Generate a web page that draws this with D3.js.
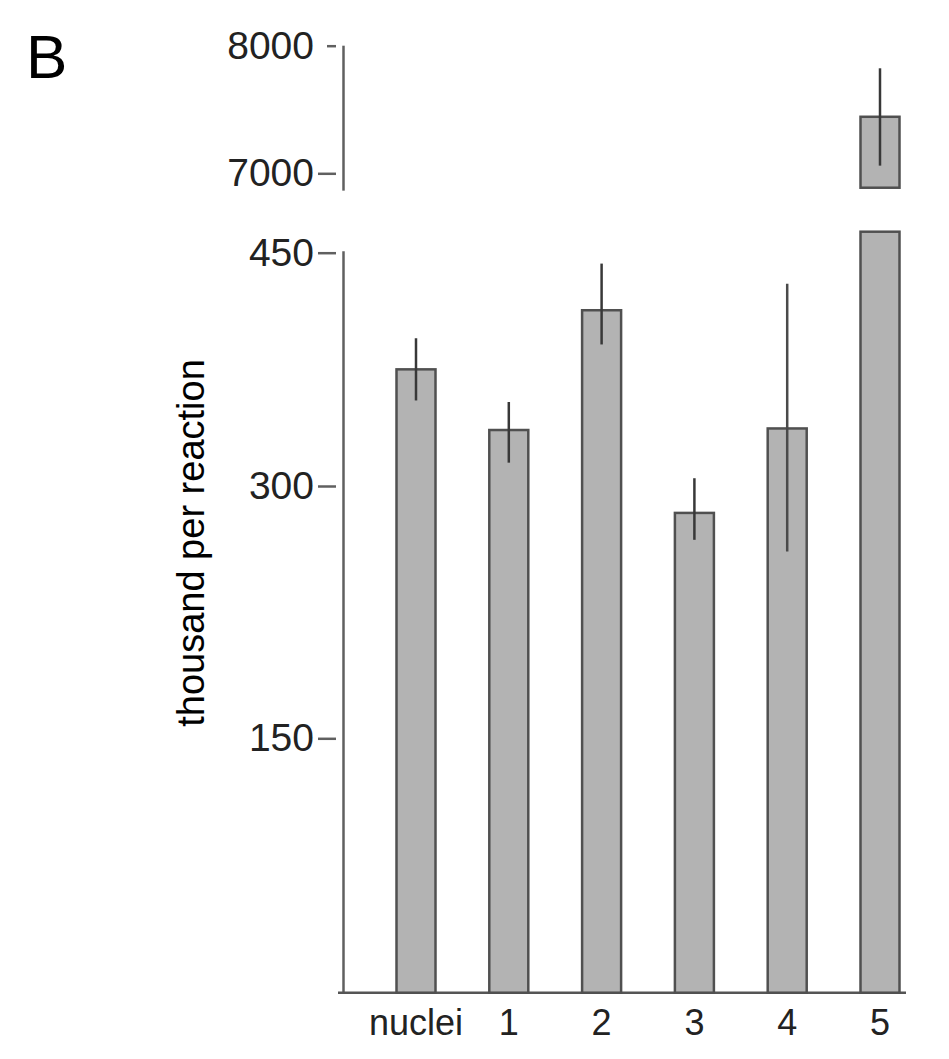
<!DOCTYPE html>
<html>
<head>
<meta charset="utf-8">
<script src="https://cdn.jsdelivr.net/npm/d3@7"></script>
<style>
  body { margin: 0; background: #fff; }
  svg { display: block; font-family: "Liberation Sans", Arial, sans-serif; }
</style>
</head>
<body>
<div id="chart"></div>
<script>
// data
const categories = ["nuclei", "1", "2", "3", "4", "5"]
const values = [375, 336, 413, 284, 337, 7443]
const errLow = [355, 315, 391, 268, 261, 7060]
const errHigh = [395, 354, 443, 305, 430, 7823]
const lowTicks = [0, 150, 300, 450]
const highTicks = [7000, 8000]

const width = 949, height = 1059
const lowerCap = 463.5, upperFloor = 6887   // where the axis is broken
const bar_w = 39, bar_fill = "#b3b3b3", bar_stroke = "#505050",
    err_color = "#383838", axis_color = "#606060", tick_font = "39px", font_size = "36px"

let svg = d3.select("#chart")
    .append("svg")
    .attr("width", width)
    .attr("height", height)

let x = d3.scalePoint()
    .domain(categories)
    .range([416, 880])

// the original's lower ticks are not evenly spaced, so follow them piecewise
let yLow = d3.scaleLinear()
    .domain(lowTicks)
    .range([992.7, 738.3, 486, 252.7])

let yHigh = d3.scaleLinear()
    .domain([7000, 8000])
    .range([173.3, 45.7])

// panel letter
svg.append("text")
    .attr("x", 26)
    .attr("y", 78)
    .attr("font-size", "62px")
    .attr("fill", "#000")
    .text("B")

// axes: ticks sit a little left of the axis line
function drawAxis(scale, ticks, lineTop, lineBottom) {
    let g = svg.append("g")
        .attr("transform", "translate(336,0)")
        .call(d3.axisLeft(scale).tickValues(ticks).tickSizeInner(18).tickSizeOuter(0).tickPadding(4).tickFormat(d3.format("d")))
    g.select(".domain").remove()
    g.selectAll(".tick line").attr("stroke", axis_color).attr("stroke-width", 2.5)
    g.selectAll(".tick text")
        .attr("font-size", tick_font)
        .attr("font-family", "Liberation Sans, Arial, sans-serif")
        .attr("fill", "#222")
    svg.append("line")
        .attr("x1", 343.5).attr("x2", 343.5)
        .attr("y1", lineTop).attr("y2", lineBottom)
        .attr("stroke", axis_color)
        .attr("stroke-width", 2.5)
    return g
}

let gLow = drawAxis(yLow, lowTicks.filter(d => d > 0), yLow(451), yLow(0))
let gHigh = drawAxis(yHigh, highTicks, yHigh(8000), yHigh(6864))
// the 8000 tick is a short stub in the original
gHigh.selectAll(".tick").filter(d => d === 8000).select("line")
    .attr("x1", -9).attr("x2", 0)
gHigh.selectAll(".tick").filter(d => d === 8000).select("text")
    .attr("x", -22)

// x axis baseline
svg.append("line")
    .attr("x1", 338).attr("x2", 906)
    .attr("y1", yLow(0)).attr("y2", yLow(0))
    .attr("stroke", "#555")
    .attr("stroke-width", 2.5)

let data = categories.map((c, i) => ({cat: c, v: values[i], lo: errLow[i], hi: errHigh[i]}))

// lower segments
svg.append("g")
    .selectAll("rect")
    .data(data)
    .enter()
    .append("rect")
    .attr("x", d => x(d.cat) - bar_w / 2)
    .attr("y", d => yLow(Math.min(d.v, lowerCap)))
    .attr("width", bar_w)
    .attr("height", d => yLow(0) - yLow(Math.min(d.v, lowerCap)))
    .attr("fill", bar_fill)
    .attr("stroke", bar_stroke)
    .attr("stroke-width", 2.5)

// upper segments for bars that pass the break
svg.append("g")
    .selectAll("rect")
    .data(data.filter(d => d.v > lowerCap))
    .enter()
    .append("rect")
    .attr("x", d => x(d.cat) - bar_w / 2)
    .attr("y", d => yHigh(d.v))
    .attr("width", bar_w)
    .attr("height", d => yHigh(upperFloor) - yHigh(d.v))
    .attr("fill", bar_fill)
    .attr("stroke", bar_stroke)
    .attr("stroke-width", 2.5)

// error bars
svg.append("g")
    .selectAll("line")
    .data(data)
    .enter()
    .append("line")
    .attr("x1", d => x(d.cat)).attr("x2", d => x(d.cat))
    .attr("y1", d => d.v > lowerCap ? yHigh(d.hi) : yLow(d.hi))
    .attr("y2", d => d.v > lowerCap ? yHigh(d.lo) : yLow(d.lo))
    .attr("stroke", (d, i) => i === 4 ? "#4a4a4a" : err_color)
    .attr("stroke-width", 2.5)

// category labels
svg.append("g")
    .selectAll("text")
    .data(categories)
    .enter()
    .append("text")
    .attr("x", d => x(d))
    .attr("y", 1035)
    .attr("text-anchor", "middle")
    .attr("font-size", font_size)
    .attr("fill", "#222")
    .text(d => d)

// y title
svg.append("text")
    .attr("transform", "translate(204,543) rotate(-90)")
    .attr("text-anchor", "middle")
    .attr("font-size", "38px")
    .attr("fill", "#000")
    .text("thousand per reaction")
</script>
</body>
</html>
